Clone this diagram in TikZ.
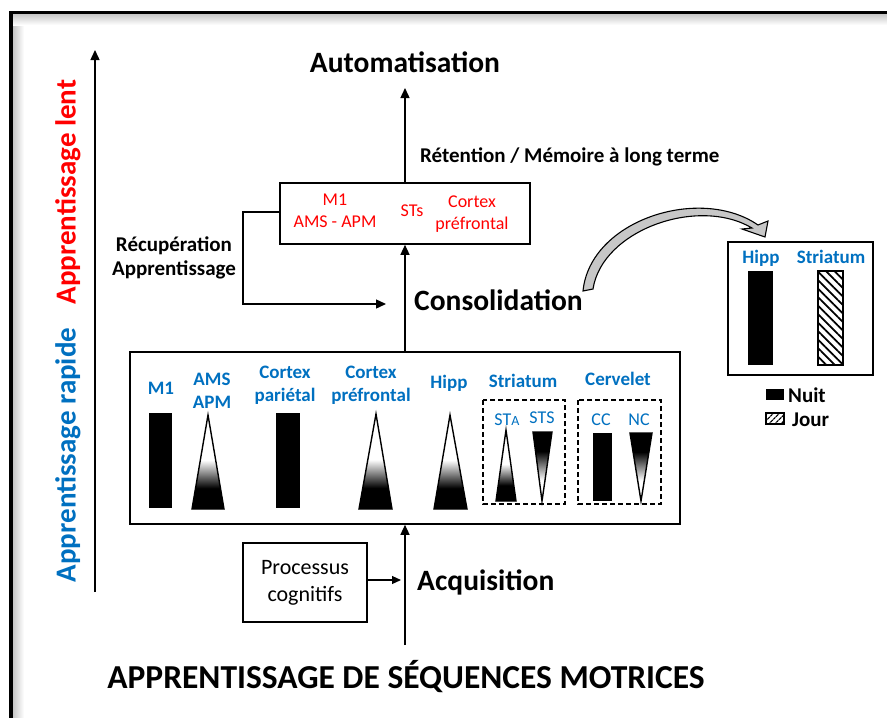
\documentclass[tikz,border=0pt]{standalone}
\usepackage{fontspec}
\setmainfont{Carlito}
\usetikzlibrary{arrows.meta,patterns.meta}
\definecolor{myblue}{RGB}{0,112,192}
\definecolor{myred}{RGB}{255,0,0}
\pgfdeclareverticalshading{upshade}{100bp}{color(0bp)=(black); color(36bp)=(black); color(51bp)=(white); color(100bp)=(white)}
\pgfdeclareverticalshading{downshade}{100bp}{color(0bp)=(white); color(40bp)=(white); color(61bp)=(black); color(100bp)=(black)}
\newcommand{\fs}[2]{\fontsize{#1}{#2}\selectfont}
\begin{document}
\begin{tikzpicture}[x=1pt,y=-1pt,
  arr/.style={-{Triangle[length=10,width=9]}, line width=1.4},
  boxline/.style={draw, line width=1.6},
  bluelab/.style={text=myblue, font=\bfseries\fs{19}{23}, align=center, inner sep=0},
  redlab/.style={text=myred, font=\fs{18}{22}, align=center, inner sep=0},
  bigtxt/.style={font=\bfseries\fs{29.5}{32}, inner sep=0},
  smlab/.style={text=myblue, font=\fs{18}{20}, inner sep=0},
  tri/.style={draw, line width=1.4, shading=upshade},
  itri/.style={draw, line width=1.4, shading=downshade},
  bar/.style={fill=black},
  hatch/.style={draw, line width=1.3, pattern={Lines[angle=-45,distance=6pt,line width=1.8pt]}},
  dbox/.style={draw, dash pattern=on 5pt off 3pt, line width=1.5}
]
\useasboundingbox (0,0) rectangle (887,718);
% outer frame with shadow
\shade[left color=black!22, right color=white] (13,14) rectangle (24,718);
\shade[top color=black!22, bottom color=white] (13,14) rectangle (887,25);
\draw[line width=3.5] (11,760) -- (11,12.5) -- (900,12.5);

% left axis
\coordinate (axbot) at (95,592);
\coordinate (axtop) at (95,50);
\draw[arr] (axbot) -- (axtop);
\node[rotate=90, text=myred, font=\bfseries\fs{29}{32}, inner sep=0] (lent) at (68,192) {Apprentissage lent};
\node[rotate=90, text=myblue, font=\bfseries\fs{29}{32}, inner sep=0] (rapide) at (68,455) {Apprentissage rapide};

% main labels
\node[bigtxt] (auto) at (405,62) {Automatisation};
\node[font=\bfseries\fs{21}{24}, anchor=west, inner sep=0] (ret) at (420,157) {Rétention / Mémoire à long terme};
\node[bigtxt, anchor=west] (consol) at (414,300) {Consolidation};
\node[bigtxt, anchor=west] (acq) at (417,582) {Acquisition};
\node[font=\bfseries\fs{33.5}{36}, inner sep=0] (title) at (406,677) {APPRENTISSAGE DE SÉQUENCES MOTRICES};
\node[font=\bfseries\fs{21}{24}, align=center, inner sep=0] (recup) at (174,258) {Récupération\\Apprentissage};

% long-term box
\node[boxline, minimum width=250, minimum height=61, inner sep=0] (stm) at (405,213.5) {};
\node[redlab] (m1r) at (335,211) {M1\\AMS - APM};
\node[redlab] (str) at (412,211) {STs};
\node[redlab] (cpr) at (472,214) {Cortex\\préfrontal};

% big box
\node[boxline, minimum width=550, minimum height=172, inner sep=0] (big) at (405,438) {};
% processus box
\node[boxline, line width=1.3, minimum width=124, minimum height=79, align=center, font=\fs{22}{27}, inner sep=0] (proc) at (305,582.5) {Processus\\cognitifs};

% vertical flow
\coordinate (bot) at (405,645);
\coordinate (top) at (405,88);
\draw[arr] (bot) -- (big.south);
\draw[arr] (big.north) -- (stm.south);
\draw[arr] (stm.north) -- (top);
\coordinate (procend) at (401,580);
\draw[-{Triangle[length=9,width=8]}, line width=1.2] (proc.east |- procend) -- (procend);
% feedback loop
\coordinate (fb1) at (243,212);
\coordinate (fb2) at (243,304);
\coordinate (fbend) at (386,304);
\draw[arr] (stm.west |- fb1) -- (fb1) -- (fb2) -- (fbend);

% big box contents
\node[bluelab] (lm1) at (161,388) {M1};
\node[bluelab] (lams) at (212,391) {AMS\\APM};
\node[bluelab] (lpar) at (285,385) {Cortex\\pariétal};
\node[bluelab] (lpre) at (371,385) {Cortex\\préfrontal};
\node[bluelab] (lhip) at (449,383) {Hipp};
\node[bluelab] (lstr) at (523,381) {Striatum};
\node[bluelab] (lcer) at (618,379) {Cervelet};

\fill[bar] (149,413) rectangle (172,508);
\path[tri] (208,415) -- (224,509) -- (192,509) -- cycle;
\fill[bar] (276,413) rectangle (300,508);
\path[tri] (376,414) -- (392,509) -- (359,509) -- cycle;
\path[tri] (450,415) -- (467,509) -- (434,509) -- cycle;

\draw[dbox] (483,400) rectangle (565,504);
\node[smlab] (lsta) at (507,420) {ST\fs{14}{16}A};
\node[smlab] (lsts) at (542,418) {STS};
\path[tri] (506,430) -- (516,501) -- (496,501) -- cycle;
\path[itri] (533,432) -- (552,432) -- (542,501) -- cycle;

\draw[dbox] (578,400) rectangle (661,504);
\node[smlab] (lcc) at (601,420) {CC};
\node[smlab] (lnc) at (639,420) {NC};
\fill[bar] (593,433) rectangle (612,501);
\path[itri] (630,433) -- (652,433) -- (641,501) -- cycle;

% curved block arrow
\draw[line width=1.1, fill=black!22]
  (583,291) .. controls (590,220) and (700,185) .. (758,225)
  -- (768,221) -- (765,237) -- (742,229) -- (752,228)
  .. controls (698,196) and (602,230) .. (593,289) -- cycle;

% right box
\node[boxline, minimum width=145, minimum height=133, inner sep=0] (rbox) at (800.5,308.5) {};
\node[bluelab] (rhip) at (761,258) {Hipp};
\node[bluelab] (rstr) at (831,257) {Striatum};
\fill[bar] (748,271) rectangle (773,365);
\path[hatch] (818,271) rectangle (843,365);
% legend
\fill[bar] (766,389) rectangle (784,400);
\node[font=\bfseries\fs{21}{24}, anchor=west, inner sep=0] (nuit) at (788,395) {Nuit};
\path[hatch, line width=1.2, pattern={Lines[angle=45,distance=4pt,line width=1.4pt]}] (766,413) rectangle (784,424);
\node[font=\bfseries\fs{21}{24}, anchor=west, inner sep=0] (jour) at (792,420) {Jour};
\end{tikzpicture}
\end{document}
